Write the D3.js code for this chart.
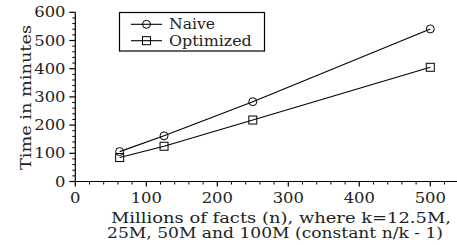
<!DOCTYPE html>
<html><head><meta charset="utf-8">
<script src="https://cdn.jsdelivr.net/npm/d3@7"></script>
<style>
html,body{margin:0;padding:0;background:#fff;}
text{font-family:"DejaVu Serif",serif;fill:#222;}
</style></head>
<body><svg id="c" width="457" height="245"></svg>
<script>
const factsX = [62.5, 125, 250, 500];
const naive = [106, 162, 283, 541];
const optimized = [85, 125, 218, 405];
const seriesNames = ["Naive", "Optimized"];
const xTicks = [0, 100, 200, 300, 400, 500];
const yTicks = [0, 100, 200, 300, 400, 500, 600];
const yTitle = "Time in minutes";
const xTitle1 = "Millions of facts (n), where k=12.5M,";
const xTitle2 = "25M, 50M and 100M (constant n/k - 1)";

const svg = d3.select("#c");
const x = d3.scaleLinear().domain([0, 540]).range([75.3, 458.7]);
const y = d3.scaleLinear().domain([0, 600]).range([181.5, 12.3]);
const fs = 14;
const stretch = 1.17;
function widen(sel) {
  sel.each(function () {
    const w = this.getComputedTextLength();
    d3.select(this).attr("textLength", w * stretch).attr("lengthAdjust", "spacingAndGlyphs");
  });
}

const xMinor = d3.range(0, 541, 20).filter(v => v % 100 !== 0);
const yMinor = d3.range(0, 601, 20).filter(v => v % 100 !== 0);

const gx = svg.append("g");
gx.append("line").attr("x1", x(0)).attr("x2", 457).attr("y1", y(0)).attr("y2", y(0)).attr("stroke", "#000").attr("stroke-width", 1.2);
gx.selectAll(".mj").data(xTicks).join("line")
  .attr("x1", d => x(d)).attr("x2", d => x(d)).attr("y1", y(0)).attr("y2", y(0) + 5)
  .attr("stroke", "#000").attr("stroke-width", 1.2);
gx.selectAll(".mn").data(xMinor).join("line")
  .attr("x1", d => x(d)).attr("x2", d => x(d)).attr("y1", y(0)).attr("y2", y(0) + 3)
  .attr("stroke", "#000").attr("stroke-width", 1);
gx.selectAll("text").data(xTicks).join("text")
  .attr("x", d => x(d)).attr("y", 202.7).attr("text-anchor", "middle")
  .attr("font-size", fs).text(d => d).call(widen);

const gy = svg.append("g");
gy.append("line").attr("x1", x(0)).attr("x2", x(0)).attr("y1", y(0)).attr("y2", y(600)).attr("stroke", "#000").attr("stroke-width", 1.2);
gy.selectAll(".mj").data(yTicks).join("line")
  .attr("x1", x(0) - 6).attr("x2", x(0)).attr("y1", d => y(d)).attr("y2", d => y(d))
  .attr("stroke", "#000").attr("stroke-width", 1.2);
gy.selectAll(".mn").data(yMinor).join("line")
  .attr("x1", x(0) - 3).attr("x2", x(0)).attr("y1", d => y(d)).attr("y2", d => y(d))
  .attr("stroke", "#000").attr("stroke-width", 1);
gy.selectAll("text").data(yTicks).join("text")
  .attr("x", 65.5).attr("y", d => y(d) + 5).attr("text-anchor", "end")
  .attr("font-size", fs).text(d => d).call(widen);

svg.append("text").attr("transform", "translate(31,97.5) rotate(-90)")
  .attr("text-anchor", "middle").attr("font-size", fs).text(yTitle)
  .attr("textLength", 145).attr("lengthAdjust", "spacingAndGlyphs");
svg.append("text").attr("x", 281).attr("y", 223.3).attr("text-anchor", "middle").attr("font-size", fs).text(xTitle1)
  .attr("textLength", 340).attr("lengthAdjust", "spacingAndGlyphs");
svg.append("text").attr("x", 275).attr("y", 238.3).attr("text-anchor", "middle").attr("font-size", fs).text(xTitle2)
  .attr("textLength", 336).attr("lengthAdjust", "spacingAndGlyphs");

const line = d3.line().x(d => x(d[0])).y(d => y(d[1]));
const dataN = factsX.map((v, i) => [v, naive[i]]);
const dataO = factsX.map((v, i) => [v, optimized[i]]);
svg.append("path").attr("d", line(dataN)).attr("fill", "none").attr("stroke", "#000").attr("stroke-width", 1.1);
svg.append("path").attr("d", line(dataO)).attr("fill", "none").attr("stroke", "#000").attr("stroke-width", 1.1);
svg.selectAll(".cn").data(dataN).join("circle")
  .attr("cx", d => x(d[0])).attr("cy", d => y(d[1])).attr("r", 4)
  .attr("fill", "none").attr("stroke", "#000").attr("stroke-width", 1);
svg.selectAll(".sq").data(dataO).join("rect")
  .attr("x", d => x(d[0]) - 4).attr("y", d => y(d[1]) - 4).attr("width", 8).attr("height", 8)
  .attr("fill", "none").attr("stroke", "#000").attr("stroke-width", 1);

const lg = svg.append("g");
lg.append("rect").attr("x", 119.5).attr("y", 12.5).attr("width", 145).attr("height", 38.5)
  .attr("fill", "#fff").attr("stroke", "#000").attr("stroke-width", 1.2);
const ly = [24.3, 40.7];
const lw = [46, 82.7];
seriesNames.forEach((name, i) => {
  lg.append("line").attr("x1", 131).attr("x2", 162).attr("y1", ly[i]).attr("y2", ly[i]).attr("stroke", "#000").attr("stroke-width", 1.1);
  if (i === 0) lg.append("circle").attr("cx", 146.5).attr("cy", ly[i]).attr("r", 4).attr("fill", "none").attr("stroke", "#000");
  else lg.append("rect").attr("x", 142.5).attr("y", ly[i] - 4).attr("width", 8).attr("height", 8).attr("fill", "none").attr("stroke", "#000");
  lg.append("text").attr("x", 169).attr("y", ly[i] + 5).attr("font-size", fs).text(name)
    .attr("textLength", lw[i]).attr("lengthAdjust", "spacingAndGlyphs");
});
</script></body></html>
